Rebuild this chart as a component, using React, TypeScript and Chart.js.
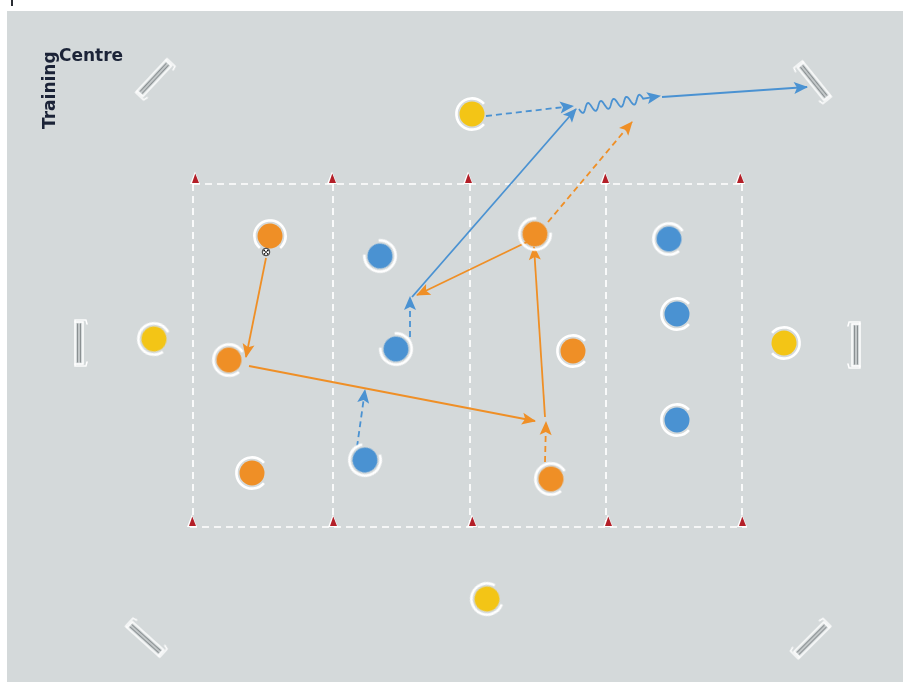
import { useEffect, useRef } from "react";
import { Chart, registerables } from "chart.js";

Chart.register(...registerables);

const W = 903;
const H = 682;

// pitch area (data units = pixels)
const pitchBox = [7, 11, 903, 682];
const fieldX = [193, 333, 470, 606, 742];
const fieldTop = 184;
const fieldBottom = 527;

// cones [x, y]
const conesTop = [[195, 178], [332, 178], [468, 178], [605, 178], [740, 178]];
const conesBottom = [[192, 521], [333, 521], [472, 521], [608, 521], [742, 521]];

// mini goals [x, y, rotationDeg]
const goals = [
  [155, 79, -47],
  [813, 82, 51],
  [80, 343, -90],
  [855, 345, 90],
  [146, 638, 222],
  [811, 639, 135],
];

// players [x, y, facing (deg)]
const orangePlayers = [
  [270, 236, 90],
  [229, 360, 10],
  [252, 473, 0],
  [535, 234, -45],
  [573, 351, 0],
  [551, 479, 10],
];
const bluePlayers = [
  [380, 256, 225],
  [396, 349, 225],
  [365, 460, -60],
  [669, 239, 10],
  [677, 314, 0],
  [677, 420, 0],
];
const yellowPlayers = [
  [472, 114, 0],
  [154, 339, 15],
  [784, 343, 180],
  [487, 599, -20],
];
const ball = [[266, 252]];

// movements [x1, y1, x2, y2]
const orangePasses = [
  [266, 258, 246, 357],
  [249, 366, 535, 421],
  [545, 417, 534, 247],
  [527, 242, 417, 295],
];
const orangeRuns = [
  [545, 462, 546, 422],
  [548, 222, 632, 122],
];
const bluePasses = [
  [412, 297, 576, 109],
  [662, 97, 807, 87],
];
const blueRuns = [
  [410, 337, 410, 297],
  [357, 447, 365, 390],
  [486, 116, 573, 106],
];
const blueDribbles = [[579, 109, 660, 96]];

const ORANGE = "#ef8f26";
const BLUE = "#4a92d2";
const YELLOW = "#f3c516";
const GREY_BG = "#d4d9da";
const NAVY = "#1b2337";

function makeCanvas(w: number, h: number, draw: (c: CanvasRenderingContext2D) => void) {
  const c = document.createElement("canvas");
  c.width = w;
  c.height = h;
  const ctx = c.getContext("2d") as CanvasRenderingContext2D;
  draw(ctx);
  return c;
}

function playerImg(color: string) {
  return makeCanvas(40, 40, (ctx) => {
    ctx.fillStyle = color;
    ctx.beginPath();
    ctx.arc(20, 20, 12.5, 0, Math.PI * 2);
    ctx.fill();
    ctx.strokeStyle = "#ffffff";
    ctx.lineWidth = 2.6;
    ctx.beginPath();
    ctx.arc(20, 20, 15.6, 0.7, Math.PI * 2 - 0.7);
    ctx.stroke();
  });
}

function coneImg() {
  return makeCanvas(12, 14, (ctx) => {
    ctx.fillStyle = "#ffffff";
    ctx.beginPath();
    ctx.moveTo(6, 0.5);
    ctx.lineTo(11, 13);
    ctx.lineTo(1, 13);
    ctx.closePath();
    ctx.fill();
    ctx.fillStyle = "#b31f28";
    ctx.beginPath();
    ctx.moveTo(6.3, 2.5);
    ctx.lineTo(10, 12);
    ctx.lineTo(3, 12);
    ctx.closePath();
    ctx.fill();
  });
}

function goalImg() {
  return makeCanvas(52, 22, (ctx) => {
    ctx.lineCap = "round";
    ctx.strokeStyle = "#ffffff";
    ctx.lineWidth = 1.6;
    ctx.beginPath();
    ctx.rect(5, 6, 42, 8);
    ctx.stroke();
    ctx.strokeStyle = "#8a9092";
    ctx.lineWidth = 1.3;
    ctx.beginPath();
    ctx.moveTo(7, 8.7);
    ctx.lineTo(45, 8.7);
    ctx.moveTo(7, 11.4);
    ctx.lineTo(45, 11.4);
    ctx.stroke();
    ctx.strokeStyle = "#ffffff";
    ctx.lineWidth = 1.4;
    ctx.beginPath();
    ctx.moveTo(5, 6);
    ctx.lineTo(3, 6);
    ctx.lineTo(3, 17);
    ctx.lineTo(7, 18);
    ctx.moveTo(47, 6);
    ctx.lineTo(49, 6);
    ctx.lineTo(49, 17);
    ctx.lineTo(45, 18);
    ctx.stroke();
  });
}

function ballImg() {
  return makeCanvas(10, 10, (ctx) => {
    ctx.fillStyle = "#ffffff";
    ctx.strokeStyle = "#222";
    ctx.lineWidth = 0.9;
    ctx.beginPath();
    ctx.arc(5, 5, 3.8, 0, Math.PI * 2);
    ctx.fill();
    ctx.stroke();
    ctx.fillStyle = "#111";
    [[5, 5], [3.2, 3.5], [6.8, 3.5], [3.5, 6.8], [6.6, 6.8]].forEach(([x, y]) => {
      ctx.beginPath();
      ctx.arc(x, y, 0.9, 0, Math.PI * 2);
      ctx.fill();
    });
  });
}

function drawHead(ctx: CanvasRenderingContext2D, x0: number, y0: number, x1: number, y1: number, color: string) {
  const a = Math.atan2(y1 - y0, x1 - x0);
  const L = 13;
  const w = 6;
  ctx.save();
  ctx.fillStyle = color;
  ctx.translate(x1, y1);
  ctx.rotate(a);
  ctx.beginPath();
  ctx.moveTo(1, 0);
  ctx.lineTo(-L, -w);
  ctx.lineTo(-L + 3, 0);
  ctx.lineTo(-L, w);
  ctx.closePath();
  ctx.fill();
  ctx.restore();
}

const pitchPlugin = {
  id: "pitch",
  beforeDraw(chart: any) {
    const { ctx, scales } = chart;
    const sx = scales.x;
    const sy = scales.y;
    ctx.save();
    ctx.fillStyle = "#ffffff";
    ctx.fillRect(0, 0, chart.width, chart.height);
    const x0 = sx.getPixelForValue(pitchBox[0]);
    const y0 = sy.getPixelForValue(pitchBox[1]);
    const x1 = sx.getPixelForValue(pitchBox[2]);
    const y1 = sy.getPixelForValue(pitchBox[3]);
    ctx.fillStyle = GREY_BG;
    ctx.fillRect(x0, y0, x1 - x0, y1 - y0);
    ctx.fillStyle = "#2a2d33";
    ctx.fillRect(sx.getPixelForValue(11), 0, 2, 6);
    // logo
    ctx.fillStyle = NAVY;
    ctx.font = "bold 17px 'DejaVu Sans'";
    ctx.textBaseline = "alphabetic";
    ctx.fillText("Centre", sx.getPixelForValue(59), sy.getPixelForValue(61));
    ctx.save();
    ctx.translate(sx.getPixelForValue(55), sy.getPixelForValue(129));
    ctx.rotate(-Math.PI / 2);
    ctx.fillText("Training", 0, 0);
    ctx.restore();
    ctx.restore();
  },
  afterDatasetDraw(chart: any, args: any) {
    const ds = chart.data.datasets[args.index] as any;
    const pts = args.meta.data;
    if (!pts || pts.length < 2) return;
    const ctx = chart.ctx;
    const p0 = pts[0];
    const p1 = pts[1];
    if (ds.wavy) {
      const dx = p1.x - p0.x;
      const dy = p1.y - p0.y;
      const len = Math.hypot(dx, dy);
      const ux = dx / len;
      const uy = dy / len;
      const nx = -uy;
      const ny = ux;
      const waveLen = len - 17;
      ctx.save();
      ctx.strokeStyle = ds.arrowColor;
      ctx.lineWidth = 1.8;
      ctx.beginPath();
      for (let t = 0; t <= waveLen; t += 0.5) {
        const off = Math.sin((t / 13) * Math.PI * 2) * 4.5;
        const x = p0.x + ux * t + nx * off;
        const y = p0.y + uy * t + ny * off;
        if (t === 0) ctx.moveTo(x, y);
        else ctx.lineTo(x, y);
      }
      ctx.lineTo(p1.x - ux * 9, p1.y - uy * 9);
      ctx.stroke();
      ctx.restore();
      drawHead(ctx, p0.x, p0.y, p1.x, p1.y, ds.arrowColor);
    } else if (ds.arrowColor) {
      drawHead(ctx, p0.x, p0.y, p1.x, p1.y, ds.arrowColor);
    }
  },
};

function segs(list: number[][]) {
  return list.map((s) => [
    { x: s[0], y: s[1] },
    { x: s[2], y: s[3] },
  ]);
}

export default function App() {
  const ref = useRef<HTMLCanvasElement | null>(null);

  useEffect(() => {
    if (!ref.current) return;
    const player = {
      orange: playerImg(ORANGE),
      blue: playerImg(BLUE),
      yellow: playerImg(YELLOW),
    };
    const cone = coneImg();
    const goal = goalImg();
    const ballI = ballImg();

    const datasets: any[] = [];

    // field dashed lines
    const fieldLines: number[][] = [
      [fieldX[0], fieldTop, fieldX[fieldX.length - 1], fieldTop],
      [fieldX[0] - 3, fieldBottom, fieldX[fieldX.length - 1] + 5, fieldBottom],
      ...fieldX.map((x) => [x, fieldTop, x, fieldBottom]),
    ];
    segs(fieldLines).forEach((d) =>
      datasets.push({
        data: d,
        showLine: true,
        borderColor: "#ffffff",
        borderWidth: 1.7,
        borderDash: [7, 5],
        pointRadius: 0,
        order: 10,
      })
    );

    datasets.push({
      data: goals.map((g) => ({ x: g[0], y: g[1] })),
      pointStyle: goal,
      pointRotation: goals.map((g) => g[2]),
      order: 9,
    });

    const addMoves = (list: number[][], color: string, dashed: boolean) =>
      segs(list).forEach((d) =>
        datasets.push({
          data: d,
          showLine: true,
          borderColor: color,
          borderWidth: 1.8,
          borderDash: dashed ? [6, 4] : [],
          pointRadius: 0,
          arrowColor: color,
          order: 5,
        })
      );
    addMoves(orangePasses, ORANGE, false);
    addMoves(orangeRuns, ORANGE, true);
    addMoves(bluePasses, BLUE, false);
    addMoves(blueRuns, BLUE, true);
    segs(blueDribbles).forEach((d) =>
      datasets.push({
        data: d,
        showLine: false,
        pointRadius: 0,
        wavy: true,
        arrowColor: BLUE,
        order: 5,
      })
    );

    const addPlayers = (list: number[][], img: HTMLCanvasElement) =>
      datasets.push({
        data: list.map((p) => ({ x: p[0], y: p[1] })),
        pointStyle: img,
        pointRotation: list.map((p) => p[2]),
        order: 2,
      });
    addPlayers(orangePlayers, player.orange);
    addPlayers(bluePlayers, player.blue);
    addPlayers(yellowPlayers, player.yellow);

    datasets.push({
      data: [...conesTop, ...conesBottom].map((c) => ({ x: c[0], y: c[1] })),
      pointStyle: cone,
      order: 1,
    });
    datasets.push({
      data: ball.map((b) => ({ x: b[0], y: b[1] })),
      pointStyle: ballI,
      order: 0,
    });

    const chart = new Chart(ref.current, {
      type: "scatter",
      data: { datasets },
      options: {
        animation: false,
        responsive: false,
        events: [],
        layout: { padding: 0, autoPadding: false },
        plugins: { legend: { display: false }, tooltip: { enabled: false } },
        scales: {
          x: { type: "linear", min: 0, max: W, display: false },
          y: { type: "linear", min: 0, max: H, reverse: true, display: false },
        },
      },
      plugins: [pitchPlugin as any],
    });
    return () => chart.destroy();
  }, []);

  return (
    <div style={{ position: "fixed", left: 0, top: 0, width: W, height: H, overflow: "hidden" }}>
      <canvas ref={ref} width={W} height={H} style={{ width: W, height: H, display: "block" }} />
    </div>
  );
}
